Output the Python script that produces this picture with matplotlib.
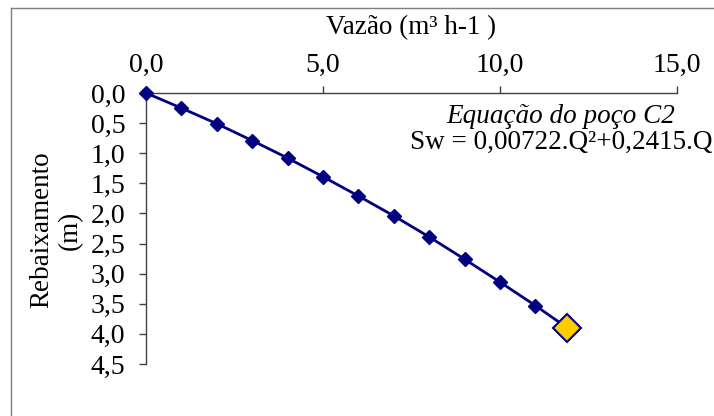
import matplotlib
matplotlib.use("Agg")
import matplotlib.pyplot as plt
from matplotlib.lines import Line2D
from matplotlib.ticker import FuncFormatter

plt.rcParams['font.family'] = ['Liberation Serif', 'DejaVu Serif']

# Pumping test: discharge Q (m³/h) and drawdown Sw (m)
vazao = [0, 1, 2, 3, 4, 5, 6, 7, 8, 9, 10, 11]
rebaixamento = [0.0, 0.25, 0.51, 0.79, 1.08, 1.39, 1.71, 2.04, 2.39, 2.76, 3.14, 3.53]
# operating point of the well
vazao_op = 11.9
rebaixamento_op = 3.90

x_ticks = [0, 5, 10, 15]
y_ticks = [0, 0.5, 1.0, 1.5, 2.0, 2.5, 3.0, 3.5, 4.0, 4.5]

W, H = 714, 416
fig = plt.figure(figsize=(W / 100, H / 100), dpi=100)
fig.patch.set_facecolor('white')

# chart frame (top and left edges)
fig.add_artist(Line2D([11 / W, 11 / W], [-0.1, 1 - 8 / H], color='#7f7f7f', lw=1.0))
fig.add_artist(Line2D([11 / W, 1.1], [1 - 8 / H, 1 - 8 / H], color='#7f7f7f', lw=1.0))

left, right, top, bottom = 146, 677, 93, 364
ax = fig.add_axes([left / W, 1 - bottom / H, (right - left) / W, (bottom - top) / H])

navy = '#000080'
ax.plot(vazao + [vazao_op], rebaixamento + [rebaixamento_op], color=navy, lw=2.0, zorder=2)
ax.plot(vazao, rebaixamento, linestyle='none', marker='D', ms=7.5, color=navy,
        markeredgecolor=navy, zorder=3, clip_on=False)
ax.plot([vazao_op], [rebaixamento_op], linestyle='none', marker='D', ms=14,
        markerfacecolor='#FFCC00', markeredgecolor=navy, markeredgewidth=1.5,
        zorder=4, clip_on=False)

ax.set_xlim(0, 15)
ax.set_ylim(4.5, 0)
ax.set_xticks(x_ticks)
ax.set_yticks(y_ticks)
fmt = FuncFormatter(lambda v, p: f"{v:.1f}".replace('.', ','))
ax.xaxis.set_major_formatter(fmt)
ax.yaxis.set_major_formatter(fmt)
ax.xaxis.tick_top()

for s in ['right', 'bottom']:
    ax.spines[s].set_visible(False)
for s in ['top', 'left']:
    ax.spines[s].set_color('#404040')
    ax.spines[s].set_linewidth(1.0)

ax.tick_params(axis='x', direction='out', length=5, width=1, color='#404040',
               labelsize=20, pad=6)
ax.tick_params(axis='y', direction='out', length=5, width=1, color='#404040',
               labelsize=20, pad=10)

fig.text((left + right) / 2 / W, 1 - 28 / H, 'Vazão (m³ h-1 )', ha='center',
         va='center', fontsize=19.5)
fig.text(56 / W, 1 - 230 / H, 'Rebaixamento\n(m)', ha='center', va='center',
         rotation=90, fontsize=19.5, multialignment='center', linespacing=1.2)

ax.text(0.7815, 0.913, 'Equação do poço C2', transform=ax.transAxes,
        ha='center', va='center', fontsize=19.5, style='italic')
ax.text(0.7815, 0.819, 'Sw = 0,00722.Q²+0,2415.Q', transform=ax.transAxes,
        ha='center', va='center', fontsize=19.5)

fig.savefig('out.png', dpi=100, facecolor='white')
